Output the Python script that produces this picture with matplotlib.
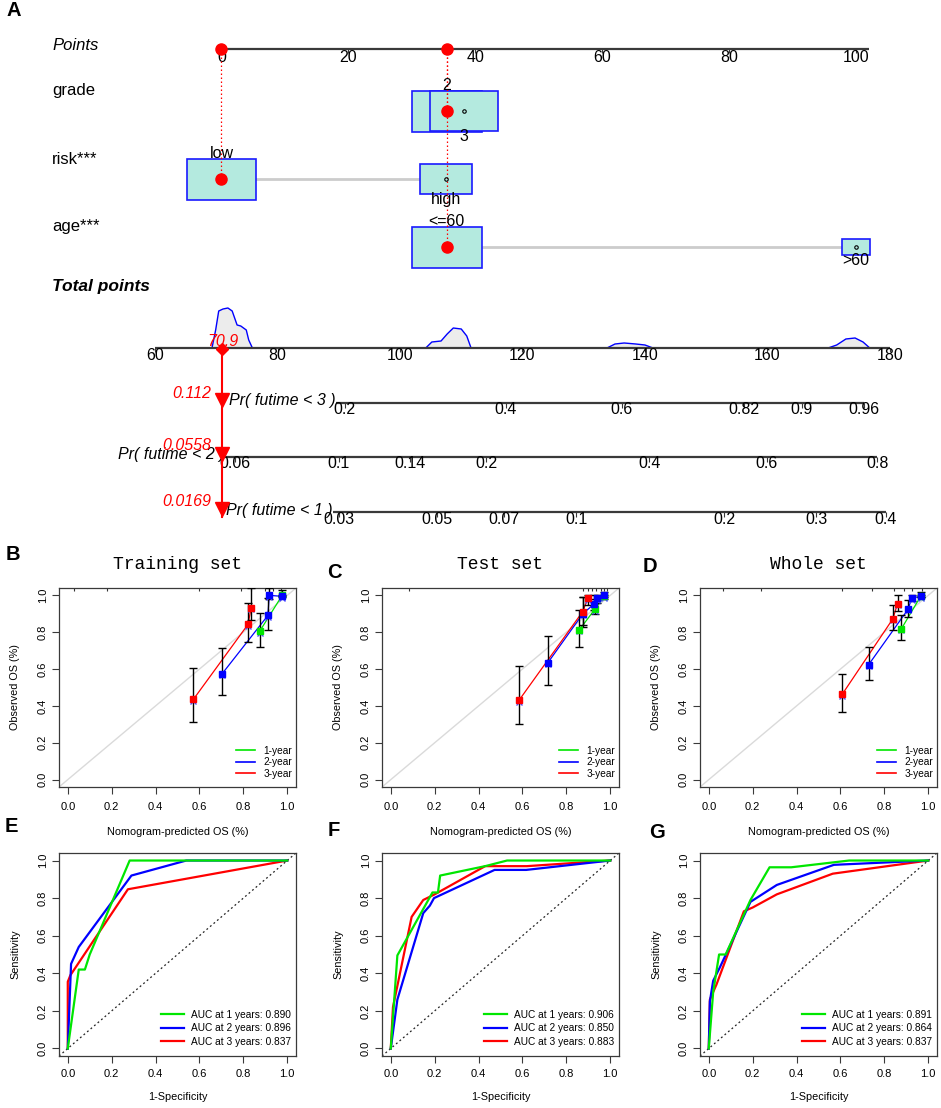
import matplotlib
matplotlib.use('Agg')
import matplotlib.pyplot as plt
import matplotlib.transforms as mtransforms
from matplotlib.patches import Rectangle
from matplotlib.ticker import FormatStrFormatter
from matplotlib.lines import Line2D
import numpy as np

plt.rcParams['font.family'] = ['Liberation Sans', 'DejaVu Sans']

W, H = 941, 1108
fig = plt.figure(figsize=(W / 100, H / 100), dpi=100)

# ======================= DATA =======================
# ---- Nomogram (panel A) ----
points_ticks = [0, 20, 40, 60, 80, 100]
grade_levels = ['2', '3']
grade_points = [35.5, 38.2]
grade_sizes = [1.0, 0.98]
risk_levels = ['low', 'high']
risk_points = [0.0, 35.4]
risk_sizes = [1.0, 0.75]
age_levels = ['<=60', '>60']
age_points = [35.5, 100.0]
age_sizes = [1.0, 0.40]
selected = {'grade': '2', 'risk': 'low', 'age': '<=60'}

total_ticks = [60, 80, 100, 120, 140, 160, 180]
patient_total = 70.9
patient_pr = [0.112, 0.0558, 0.0169]

pr3_labels = ['0.2', '0.4', '0.6', '0.82', '0.9', '0.96']
pr3_pos = [91.0, 117.3, 136.2, 156.1, 165.6, 175.8]
pr2_labels = ['0.06', '0.1', '0.14', '0.2', '0.4', '0.6', '0.8']
pr2_pos = [73.1, 90.0, 101.6, 114.1, 140.7, 159.9, 177.9]
pr1_labels = ['0.03', '0.05', '0.07', '0.1', '0.2', '0.3', '0.4']
pr1_pos = [90.0, 106.1, 117.0, 128.8, 152.9, 168.0, 179.3]

# density of total points (height, arbitrary units)
dens1_tp = [69.3, 69.9, 70.4, 71.1, 71.9, 72.6, 73.4, 74.0, 74.9, 75.3, 75.9]
dens1_h = [0, 18, 37, 39, 40, 37, 23, 22, 18, 8, 0]
dens2_tp = [104.2, 105.2, 106.7, 107.7, 108.7, 110.0, 110.9, 111.6]
dens2_h = [0, 6, 7, 14, 20, 19, 12, 0]
dens3_tp = [133.8, 135.1, 136.6, 138.5, 140.0, 141.3]
dens3_h = [0, 4, 5, 4, 3, 0]
dens4_tp = [169.9, 171.3, 172.8, 174.3, 175.6, 176.7]
dens4_h = [0, 3, 9, 10, 6, 0]

# ---- Calibration (panels B, C, D) ----
cal_titles = ['Training set', 'Test set', 'Whole set']
years = ['1-year', '2-year', '3-year']

tr1_pred = [0.875, 0.977]; tr1_obs = [0.806, 1.000]; tr1_lo = [0.719, 0.995]; tr1_hi = [0.904, 1.030]
tr2_pred = [0.703, 0.912, 0.918, 0.975]; tr2_obs = [0.574, 0.891, 1.000, 0.995]
tr2_lo = [0.462, 0.813, 0.980, 0.990]; tr2_hi = [0.716, 0.987, 1.040, 1.000]
tr3_pred = [0.572, 0.821, 0.836]; tr3_obs = [0.435, 0.842, 0.933]
tr3_lo = [0.312, 0.746, 0.865]; tr3_hi = [0.607, 0.960, 1.040]
tr_rug = [0.028, 0.18, 0.60, 0.79, 0.836, 0.90, 0.916, 0.937, 0.97]

te1_pred = [0.860, 0.930, 0.973]; te1_obs = [0.814, 0.925, 0.995]
te1_lo = [0.720, 0.900, 0.980]; te1_hi = [0.920, 0.980, 1.000]
te2_pred = [0.715, 0.875, 0.928, 0.942, 0.973]; te2_obs = [0.633, 0.900, 0.955, 0.984, 1.000]
te2_lo = [0.515, 0.830, 0.920, 0.960, 0.990]; te2_hi = [0.779, 0.990, 1.000, 1.000, 1.020]
te3_pred = [0.584, 0.874, 0.898]; te3_obs = [0.430, 0.911, 0.984]
te3_lo = [0.302, 0.840, 0.950]; te3_hi = [0.615, 0.990, 1.000]
te_rug = [0.082, 0.878, 0.898, 0.918, 0.936, 0.957, 0.973, 0.985]

wh1_pred = [0.878, 0.967]; wh1_obs = [0.819, 0.998]; wh1_lo = [0.759, 0.990]; wh1_hi = [0.891, 1.020]
wh2_pred = [0.728, 0.909, 0.924, 0.967]; wh2_obs = [0.623, 0.926, 0.985, 0.995]
wh2_lo = [0.541, 0.880, 0.970, 0.990]; wh2_hi = [0.719, 0.976, 1.000, 1.000]
wh3_pred = [0.608, 0.839, 0.860]; wh3_obs = [0.463, 0.873, 0.955]
wh3_lo = [0.368, 0.813, 0.913]; wh3_hi = [0.575, 0.946, 1.000]
wh_rug = [0.064, 0.237, 0.607, 0.744, 0.845, 0.89, 0.927, 0.973]

# ---- ROC (panels E, F, G) ----
roc_tr_1y_fpr = [0, 0.05, 0.078, 0.10, 0.282, 1.0]
roc_tr_1y_tpr = [0, 0.42, 0.42, 0.50, 1.0, 1.0]
roc_tr_2y_fpr = [0, 0.015, 0.05, 0.29, 0.54, 1.0]
roc_tr_2y_tpr = [0, 0.45, 0.54, 0.92, 1.0, 1.0]
roc_tr_3y_fpr = [0, 0.0, 0.012, 0.274, 1.0]
roc_tr_3y_tpr = [0, 0.355, 0.39, 0.847, 1.0]
auc_tr = [0.890, 0.896, 0.837]

roc_te_1y_fpr = [0, 0.03, 0.19, 0.215, 0.225, 0.43, 0.53, 1.0]
roc_te_1y_tpr = [0, 0.495, 0.83, 0.83, 0.92, 0.97, 1.0, 1.0]
roc_te_2y_fpr = [0, 0.03, 0.148, 0.178, 0.197, 0.473, 0.617, 1.0]
roc_te_2y_tpr = [0, 0.26, 0.72, 0.76, 0.80, 0.95, 0.95, 1.0]
roc_te_3y_fpr = [0, 0.01, 0.095, 0.148, 0.20, 0.43, 0.62, 1.0]
roc_te_3y_tpr = [0, 0.22, 0.70, 0.79, 0.82, 0.97, 0.97, 1.0]
auc_te = [0.906, 0.850, 0.883]

roc_wh_1y_fpr = [0, 0.02, 0.047, 0.077, 0.19, 0.277, 0.376, 0.64, 1.0]
roc_wh_1y_tpr = [0, 0.30, 0.50, 0.50, 0.79, 0.964, 0.964, 1.0, 1.0]
roc_wh_2y_fpr = [0, 0.005, 0.02, 0.05, 0.19, 0.31, 0.57, 1.0]
roc_wh_2y_tpr = [0, 0.25, 0.36, 0.43, 0.78, 0.87, 0.977, 1.0]
roc_wh_3y_fpr = [0, 0.005, 0.035, 0.16, 0.20, 0.31, 0.565, 1.0]
roc_wh_3y_tpr = [0, 0.26, 0.34, 0.73, 0.75, 0.82, 0.93, 1.0]
auc_wh = [0.891, 0.864, 0.837]

# ======================= STYLE =======================
GREEN, BLUE, RED = '#00e600', '#0000ff', '#ff0000'
COLS = [GREEN, BLUE, RED]
BOXFILL, BOXEDGE = '#b4eadf', '#1a1aff'
AXCOL = '#3a3a3a'
FS_NOMO = 11.5
FS_ROW = 12

# ======================= PANEL A: NOMOGRAM =======================
TOP_H = 530
rect = [0, 1 - TOP_H / H, 1, TOP_H / H]
ax_p = fig.add_axes(rect, label='points')
ax_p.set_xlim(-34.91, 113.4)
ax_p.set_ylim(TOP_H, 0)
ax_p.axis('off')
ax_t = fig.add_axes(rect, label='total', facecolor='none')
ax_t.set_xlim(34.69, 188.33)
ax_t.set_ylim(TOP_H, 0)
ax_t.axis('off')

bt_p = mtransforms.blended_transform_factory(ax_p.transAxes, ax_p.transData)
bt_t = mtransforms.blended_transform_factory(ax_t.transAxes, ax_t.transData)
LABX = 52 / W


def nomo_axis(ax, y, start, end, ticks, labels, dy=8):
    ax.plot([start, end], [y, y], color=AXCOL, lw=1.6, solid_capstyle='butt', zorder=2)
    ax.vlines(ticks, y, y + 4, color=AXCOL, lw=0.8, zorder=2)
    for t, l in zip(ticks, labels):
        ax.text(t, y + dy, l, ha='center', va='center', fontsize=FS_NOMO, zorder=3)


# Points row
Y_POINTS = 49
ax_p.text(LABX, Y_POINTS - 3, 'Points', transform=bt_p, fontsize=FS_ROW, style='italic',
          ha='left', va='center')
nomo_axis(ax_p, Y_POINTS, 0, 102, points_ticks, [str(t) for t in points_ticks])

BOX_W, BOX_H = 11.0, 41.0
rows = [('grade', grade_levels, grade_points, grade_sizes, 111),
        ('risk***', risk_levels, risk_points, risk_sizes, 179),
        ('age***', age_levels, age_points, age_sizes, 247)]
sel_points = []
for name, levels, pts, sizes, yc in rows:
    key = name.rstrip('*')
    ax_p.text(LABX, yc - 20, name, transform=bt_p, fontsize=FS_ROW, ha='left', va='center')
    ax_p.plot([pts[0], pts[-1]], [yc, yc], color='#cccccc', lw=2, zorder=1)
    for i, (lev, p, s) in enumerate(zip(levels, pts, sizes)):
        w, h = BOX_W * s, BOX_H * s
        ax_p.add_patch(Rectangle((p - w / 2, yc - h / 2), w, h, facecolor=BOXFILL,
                                 edgecolor=BOXEDGE, lw=1.2, zorder=2 + i))
        if i % 2 == 0:
            ax_p.text(p, yc - h / 2 - 5, lev, ha='center', va='center', fontsize=FS_NOMO, zorder=6)
        else:
            ax_p.text(p, yc + h / 2 + 5.5, lev, ha='center', va='center', fontsize=FS_NOMO, zorder=6)
        if lev == selected[key]:
            sel_points.append((p, yc))
        else:
            ax_p.plot(p, yc, marker='o', ms=2.5, mfc='none', mec='black', mew=0.8, zorder=6)

for p, yc in sel_points:
    ax_p.plot([p, p], [Y_POINTS, yc], color=RED, lw=0.9, ls=(0, (1.2, 2)), zorder=5)
for p, yc in sel_points:
    ax_p.plot(p, yc, marker='o', ms=8, color=RED, zorder=7)
for p in sorted(set(p for p, _ in sel_points)):
    ax_p.plot(p, Y_POINTS, marker='o', ms=8, color=RED, zorder=7)

# Total points row
Y_TOTAL = 348
ax_t.text(LABX, 287, 'Total points', transform=bt_t, fontsize=12.5, style='italic',
          fontweight='bold', ha='left', va='center')
for tp, hh in [(dens1_tp, dens1_h), (dens2_tp, dens2_h), (dens3_tp, dens3_h), (dens4_tp, dens4_h)]:
    tp = np.array(tp); hh = np.array(hh, dtype=float)
    ax_t.fill_between(tp, Y_TOTAL, Y_TOTAL - hh, facecolor='#ececec', edgecolor='none', zorder=1)
    ax_t.plot(tp, Y_TOTAL - hh, color=BLUE, lw=1, zorder=1.5)
nomo_axis(ax_t, Y_TOTAL, total_ticks[0], total_ticks[-1], total_ticks, [str(t) for t in total_ticks])

# Probability rows
pr_rows = [('Pr( futime < 3 )', 403, 89.55, pr3_pos, pr3_labels),
           ('Pr( futime < 2 )', 457, 71.43, pr2_pos, pr2_labels),
           ('Pr( futime < 1 )', 512, 89.06, pr1_pos, pr1_labels)]
for lab, y, start, pos, labels in pr_rows:
    ax_t.plot([start, pos[-1]], [y, y], color=AXCOL, lw=1.6, solid_capstyle='butt', zorder=2)
    ax_t.vlines(pos, y, y + 4.5, color=AXCOL, lw=0.8, zorder=2)
    for t, l in zip(pos, labels):
        ax_t.text(t, y + 7, l, ha='center', va='center', fontsize=FS_NOMO, zorder=3)
    ax_t.text(start, y - 2, lab, ha='right', va='center', fontsize=FS_NOMO, style='italic', zorder=3)

# patient path
ax_t.plot([patient_total, patient_total], [Y_TOTAL, 517], color=RED, lw=1.5, zorder=8)
ax_t.plot(patient_total, Y_TOTAL + 1, marker='D', ms=6.5, color=RED, zorder=9)
ax_t.text(patient_total + 0.2, 342, str(patient_total), color=RED, style='italic',
          fontsize=FS_NOMO, ha='center', va='center', zorder=10)
for (lab, y, start, pos, labels), pr in zip(pr_rows, patient_pr):
    ax_t.plot(patient_total, y - 3, marker='v', ms=10, color=RED, zorder=9)
    ax_t.text(patient_total - 1.8, y - 10 if y != 457 else y - 12, str(pr), color=RED,
              style='italic', fontsize=FS_NOMO, ha='right', va='center', zorder=10)

# ======================= PANEL LETTERS =======================
letters = [('A', 13.5, 11), ('B', 12.5, 555), ('C', 334, 572), ('D', 650, 567),
           ('E', 11, 827), ('F', 334, 830), ('G', 657, 832)]
for L, x, y in letters:
    fig.text(x / W, 1 - y / H, L, fontsize=14.5, fontweight='bold', ha='center', va='center')

# ======================= helpers =======================
LEFTS = [59, 382, 700]
AXW = 237


def add_ax(left, top, height):
    return fig.add_axes([left / W, 1 - (top + height) / H, AXW / W, height / H])


def style(ax, xpad):
    ax.set_xlim(-0.04, 1.04)
    ax.set_ylim(-0.04, 1.04)
    ticks = np.round(np.arange(0, 1.01, 0.2), 1)
    ax.set_xticks(ticks)
    ax.set_yticks(ticks)
    ax.xaxis.set_major_formatter(FormatStrFormatter('%.1f'))
    ax.yaxis.set_major_formatter(FormatStrFormatter('%.1f'))
    for s in ax.spines.values():
        s.set_linewidth(0.9)
        s.set_color(AXCOL)
    ax.tick_params(length=5, width=0.8, labelsize=8, pad=3, color=AXCOL)
    ax.tick_params(axis='x', pad=xpad)
    for lab in ax.get_yticklabels():
        lab.set_rotation(90)
        lab.set_va('center')


# ======================= PANELS B-D: CALIBRATION =======================
cal_sets = [
    [(tr1_pred, tr1_obs, tr1_lo, tr1_hi), (tr2_pred, tr2_obs, tr2_lo, tr2_hi), (tr3_pred, tr3_obs, tr3_lo, tr3_hi)],
    [(te1_pred, te1_obs, te1_lo, te1_hi), (te2_pred, te2_obs, te2_lo, te2_hi), (te3_pred, te3_obs, te3_lo, te3_hi)],
    [(wh1_pred, wh1_obs, wh1_lo, wh1_hi), (wh2_pred, wh2_obs, wh2_lo, wh2_hi), (wh3_pred, wh3_obs, wh3_lo, wh3_hi)],
]
rugs = [tr_rug, te_rug, wh_rug]
for k in range(3):
    ax = add_ax(LEFTS[k], 588, 199)
    style(ax, 5.5)
    ax.plot([-0.04, 1.04], [-0.04, 1.04], color='#dadada', lw=1, zorder=1)
    ax.vlines(rugs[k], 1.04 - 0.018, 1.04, color='#333333', lw=0.8, zorder=2)
    for c, (pr, ob, lo, hi) in enumerate(cal_sets[k]):
        pr = np.array(pr); ob = np.array(ob); lo = np.array(lo); hi = np.array(hi)
        ax.plot(pr, ob, color=COLS[c], lw=0.9, zorder=3)
        ax.errorbar(pr, ob, yerr=[ob - lo, hi - ob], fmt='none', ecolor='black',
                    elinewidth=1.0, capsize=3, capthick=1.0, zorder=4)
        ax.plot(pr, ob - 0.008, ls='none', marker='x', ms=4.5, mew=1.0, color='#4a4aff', zorder=5)
        ax.plot(pr, ob, ls='none', marker='s', ms=4, color=COLS[c], zorder=6)
    handles = [Line2D([], [], color=COLS[c], lw=1.2) for c in range(3)]
    ax.legend(handles, years, loc='lower right', bbox_to_anchor=(1.0, 0.02), frameon=False,
              fontsize=7.3, handlelength=1.9, handletextpad=0.8, labelspacing=0.15,
              borderaxespad=0.2, borderpad=0.2)
    ax.set_title(cal_titles[k], family=['Liberation Mono', 'DejaVu Sans Mono'], fontsize=13, pad=14)
    ax.set_ylabel('Observed OS (%)', fontsize=7.8)
    ax.yaxis.set_label_coords(-0.165, 0.5)
    ax.set_xlabel('Nomogram-predicted OS (%)', fontsize=7.8)
    ax.xaxis.set_label_coords(0.5, -0.201)

# ======================= PANELS E-G: ROC =======================
roc_sets = [
    [(roc_tr_1y_fpr, roc_tr_1y_tpr), (roc_tr_2y_fpr, roc_tr_2y_tpr), (roc_tr_3y_fpr, roc_tr_3y_tpr)],
    [(roc_te_1y_fpr, roc_te_1y_tpr), (roc_te_2y_fpr, roc_te_2y_tpr), (roc_te_3y_fpr, roc_te_3y_tpr)],
    [(roc_wh_1y_fpr, roc_wh_1y_tpr), (roc_wh_2y_fpr, roc_wh_2y_tpr), (roc_wh_3y_fpr, roc_wh_3y_tpr)],
]
aucs = [auc_tr, auc_te, auc_wh]
for k in range(3):
    ax = add_ax(LEFTS[k], 853, 203)
    style(ax, 4.5)
    ax.plot([-0.04, 1.04], [-0.04, 1.04], color='#222222', lw=0.9, ls=(0, (1.5, 2.2)), zorder=1)
    for c, (fpr, tpr) in enumerate(roc_sets[k]):
        ax.plot(fpr, tpr, color=COLS[c], lw=1.6, zorder=3 + (2 - c))
    handles = [Line2D([], [], color=COLS[c], lw=1.6) for c in range(3)]
    labels = [f'AUC at {c + 1} years: {aucs[k][c]:.3f}' for c in range(3)]
    ax.legend(handles, labels, loc='lower right', bbox_to_anchor=(1.0, 0.02), frameon=False,
              fontsize=7.3, handlelength=2.2, handletextpad=0.7, labelspacing=0.35,
              borderaxespad=0.2, borderpad=0.3)
    ax.set_ylabel('Sensitivity', fontsize=7.8)
    ax.yaxis.set_label_coords(-0.163, 0.5)
    ax.set_xlabel('1-Specificity', fontsize=7.8)
    ax.xaxis.set_label_coords(0.5, -0.177)

fig.savefig('out.png', dpi=100)
